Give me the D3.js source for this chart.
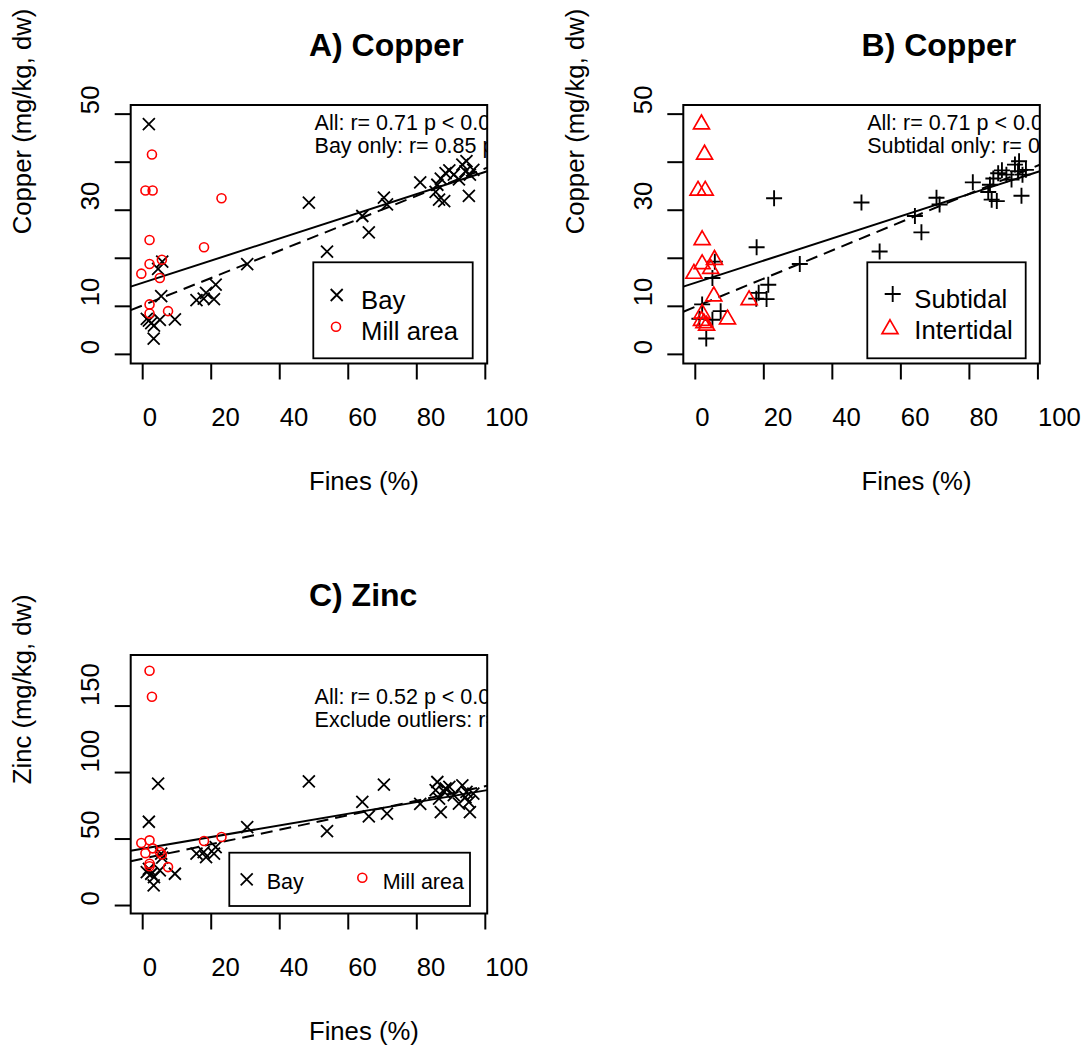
<!DOCTYPE html>
<html><head><meta charset="utf-8">
<script src="https://cdn.jsdelivr.net/npm/d3@7"></script>
<style>body{margin:0;background:#fff}svg{display:block}</style>
</head><body><div id="chart"></div>
<script>
// one entry per sediment sample: fines (%), copper and zinc (mg/kg dw), area, zone
var fines  = [2.7, 0.8, 2.9, 23.0, 2.0, 17.9, 2.0, 5.6, -0.4, 5.0, 2.0, 2.0, 7.4,
              1.8, 4.5, 5.7, 5.4, 9.4, 1.2, 1.8, 2.5, 3.3, 5.0, 3.2, 15.7, 17.8, 18.5, 20.8, 21.3,
              30.5, 48.5, 53.8, 64.1, 66.0, 70.4, 71.3, 81.0,
              85.5, 86.0, 86.5, 87.0, 88.0, 88.4, 89.5, 90.8, 92.3, 93.3, 94.5, 94.2, 95.5, 95.2, 96.5];
var copper = [41.6, 34.1, 34.1, 32.5, 23.8, 22.3, 18.8, 19.7, 16.8, 15.9, 10.4, 8.5, 9.0,
              47.9, 17.8, 19.3, 12.1, 7.3, 7.4, 7.0, 6.5, 6.0, 7.2, 3.3, 11.3, 11.6, 12.8, 11.5, 14.5,
              18.8, 31.6, 21.4, 28.8, 25.4, 32.6, 31.2, 35.8,
              33.8, 35.3, 32.2, 36.6, 31.9, 37.7, 38.3, 37.4, 36.4, 39.5, 40.2, 38.1, 37.4, 33.0, 38.4];
var zinc   = [157.0, 39.4, 43.0, 51.5, 176.6, 48.5, 49.0, 38.4, 47.0, 40.2, 31.4, 29.5, 28.9,
              63.0, 91.7, 36.0, 39.0, 23.9, 25.1, 27.6, 23.9, 21.3, 26.4, 15.1, 39.0, 40.2, 36.4, 39.0, 44.0,
              59.0, 93.4, 56.0, 77.9, 67.1, 91.0, 69.1, 76.4,
              86.7, 92.9, 80.4, 70.3, 85.4, 88.0, 89.2, 83.0, 76.6, 90.4, 85.4, 81.6, 70.3, 77.8, 84.2];
var area   = ["M","M","M","M","M","M","M","M","M","M","M","M","M",
              "B","B","B","B","B","B","B","B","B","B","B","B","B","B","B","B",
              "B","B","B","B","B","B","B","B",
              "B","B","B","B","B","B","B","B","B","B","B","B","B","B","B"];
var zone   = ["I","I","I","S","I","S","I","I","I","S","S","I","S",
              "I","I","S","I","I","S","I","I","I","S","S","I","S","S","S","S",
              "S","S","S","S","S","S","S","S",
              "S","S","S","S","S","S","S","S","S","S","S","S","S","S","S"];

var xTicks = [0, 20, 40, 60, 80, 100];
var cuTicks = [0, 10, 20, 30, 40, 50], cuLabels = [0, 10, 30, 50];
var znTicks = [0, 50, 100, 150], znLabels = [0, 50, 100, 150];

// fitted lines as drawn on the figure: [intercept, slope]
var fitCuAll = [14.9, 0.231], fitCuBay = [10.2, 0.285], fitCuSub = [9.9, 0.294];
var fitZnAll = [42.8, 0.4375], fitZnExcl = [35.2, 0.545];

var FONT = "'Liberation Sans', Arial, Helvetica, sans-serif";
var RED = "#FF0000";
var PW = 356.5, PH = 258.5;

var svg = d3.select("#chart").append("svg").attr("width", 1082).attr("height", 1051)
  .style("font-family", FONT);

function sym(g, type, cx, cy, col) {
  if (type === "x") {
    var s = 6;
    g.append("path").attr("d", "M" + (cx - s) + "," + (cy - s) + "L" + (cx + s) + "," + (cy + s) +
      "M" + (cx - s) + "," + (cy + s) + "L" + (cx + s) + "," + (cy - s))
      .attr("stroke", col).attr("stroke-width", 1.8).attr("fill", "none");
  } else if (type === "o") {
    g.append("circle").attr("cx", cx).attr("cy", cy).attr("r", 4.5).attr("stroke", col)
      .attr("stroke-width", 1.6).attr("fill", "none");
  } else if (type === "+") {
    var p = 8;
    g.append("path").attr("d", "M" + (cx - p) + "," + cy + "H" + (cx + p) + "M" + cx + "," + (cy - p) + "V" + (cy + p))
      .attr("stroke", col).attr("stroke-width", 1.9).attr("fill", "none");
  } else {
    var r = 9.2;
    g.append("path").attr("d", "M" + cx + "," + (cy - r) + "L" + (cx + r * 0.866) + "," + (cy + r / 2) +
      "L" + (cx - r * 0.866) + "," + (cy + r / 2) + "Z")
      .attr("stroke", col).attr("stroke-width", 1.7).attr("fill", "none");
  }
}

function panel(o) {
  var x = d3.scaleLinear().domain([-3.5, 100.55]).range([o.l, o.l + PW]);
  var y = d3.scaleLinear().domain(o.yDom).range([o.t + PH, o.t]);
  var cx = o.l + PW / 2, cy = o.t + PH / 2, bot = o.t + PH;
  svg.append("clipPath").attr("id", "clip" + o.id).append("rect")
    .attr("x", o.l).attr("y", o.t).attr("width", PW).attr("height", PH);
  var g = svg.append("g");
  var inner = g.append("g").attr("clip-path", "url(#clip" + o.id + ")");

  // fitted lines
  o.fits.forEach(function (f) {
    var d0 = x.domain()[0], d1 = x.domain()[1];
    inner.append("line").attr("x1", x(d0)).attr("x2", x(d1))
      .attr("y1", y(f.c[0] + f.c[1] * d0)).attr("y2", y(f.c[0] + f.c[1] * d1))
      .attr("stroke", "#000").attr("stroke-width", 2)
      .attr("stroke-dasharray", f.dash ? "12 7" : null);
  });

  // points, first group then second
  o.groups.forEach(function (gr) {
    fines.forEach(function (fv, i) {
      if (gr.test(i)) sym(inner, gr.sym, x(fv), y(o.vals[i]), gr.col);
    });
  });

  // annotation text, clipped by the plot region
  o.notes.forEach(function (t, k) {
    inner.append("text").attr("x", cx + 5.6).attr("y", o.t + o.noteY + k * 23.3)
      .attr("font-size", 21.5).attr("fill", "#000").text(t);
  });

  // legend
  var L = o.leg;
  g.append("rect").attr("x", L.x).attr("y", L.y).attr("width", L.w).attr("height", L.h)
    .attr("fill", "#fff").attr("stroke", "#000").attr("stroke-width", 1.8);
  L.items.forEach(function (it) {
    sym(g, it.sym, it.sx, it.sy, it.col);
    g.append("text").attr("x", it.tx).attr("y", it.ty).attr("font-size", L.fs).text(it.label);
  });

  // box
  g.append("rect").attr("x", o.l).attr("y", o.t).attr("width", PW).attr("height", PH)
    .attr("fill", "none").attr("stroke", "#000").attr("stroke-width", 2);

  // x axis
  xTicks.forEach(function (v) {
    g.append("line").attr("x1", x(v)).attr("x2", x(v)).attr("y1", bot).attr("y2", bot + 16)
      .attr("stroke", "#000").attr("stroke-width", 2);
    g.append("text").attr("x", x(v)).attr("y", bot + 62).attr("font-size", 25.7).text(v);
  });
  g.append("text").attr("x", cx).attr("y", bot + 126.5).attr("font-size", 25.7).text("Fines (%)");

  // y axis
  o.yTicks.forEach(function (v) {
    g.append("line").attr("x1", o.l - 16).attr("x2", o.l).attr("y1", y(v)).attr("y2", y(v))
      .attr("stroke", "#000").attr("stroke-width", 2);
  });
  o.yLabels.forEach(function (v) {
    g.append("text").attr("transform", "translate(" + (o.l - 31.5) + "," + y(v) + ") rotate(-90)")
      .attr("font-size", 25.7).text(v);
  });
  g.append("text").attr("transform", "translate(" + (o.l - 99.5) + "," + cy + ") rotate(-90)")
    .attr("font-size", 25.7).text(o.yTitle);

  // title
  g.append("text").attr("x", cx).attr("y", o.t - 49).attr("font-size", 32).attr("font-weight", "bold")
    .text(o.title);
}

var isBay = function (i) { return area[i] === "B"; }, isMill = function (i) { return area[i] === "M"; };
var isSub = function (i) { return zone[i] === "S"; }, isInt = function (i) { return zone[i] === "I"; };

panel({ id: "A", l: 130.7, t: 105, yDom: [-1.9, 51.9], vals: copper, title: "A) Copper",
  yTitle: "Copper (mg/kg, dw)", yTicks: cuTicks, yLabels: cuLabels,
  fits: [{ c: fitCuAll }, { c: fitCuBay, dash: true }],
  groups: [{ test: isBay, sym: "x", col: "#000" }, { test: isMill, sym: "o", col: RED }],
  notes: ["All: r= 0.71 p < 0.0", "Bay only: r= 0.85 p"], noteY: 25,
  leg: { x: 313.3, y: 262.3, w: 159.4, h: 96, fs: 25.7, items: [
    { sym: "x", col: "#000", sx: 336.7, sy: 295, tx: 361, ty: 309.3, label: "Bay" },
    { sym: "o", col: RED, sx: 336, sy: 326.7, tx: 361, ty: 340, label: "Mill area" }] } });

panel({ id: "B", l: 683.3, t: 105, yDom: [-1.9, 51.9], vals: copper, title: "B) Copper",
  yTitle: "Copper (mg/kg, dw)", yTicks: cuTicks, yLabels: cuLabels,
  fits: [{ c: fitCuAll }, { c: fitCuSub, dash: true }],
  groups: [{ test: isSub, sym: "+", col: "#000" }, { test: isInt, sym: "t", col: RED }],
  notes: ["All: r= 0.71 p < 0.0", "Subtidal only: r= 0."], noteY: 25,
  leg: { x: 867.3, y: 262.3, w: 158.4, h: 96, fs: 25.7, items: [
    { sym: "+", col: "#000", sx: 892.7, sy: 294, tx: 914.3, ty: 308.3, label: "Subtidal" },
    { sym: "t", col: RED, sx: 890, sy: 329, tx: 914.3, ty: 339.3, label: "Intertidal" }] } });

panel({ id: "C", l: 130.7, t: 655, yDom: [-6, 188.4], vals: zinc, title: "C) Zinc",
  yTitle: "Zinc (mg/kg, dw)", yTicks: znTicks, yLabels: znLabels,
  fits: [{ c: fitZnAll }, { c: fitZnExcl, dash: true }],
  groups: [{ test: isBay, sym: "x", col: "#000" }, { test: isMill, sym: "o", col: RED }],
  notes: ["All: r= 0.52 p < 0.0", "Exclude outliers: r="], noteY: 49,
  leg: { x: 229.3, y: 852.7, w: 240.7, h: 53.3, fs: 21.5, items: [
    { sym: "x", col: "#000", sx: 246.7, sy: 879.3, tx: 266.7, ty: 889.3, label: "Bay" },
    { sym: "o", col: RED, sx: 362.3, sy: 877.7, tx: 382.7, ty: 889.3, label: "Mill area" }] } });
</script>
</body></html>
